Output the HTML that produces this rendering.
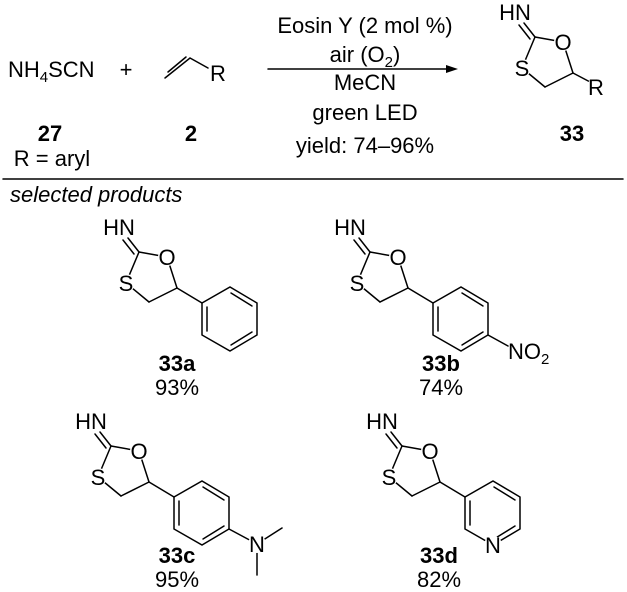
<!DOCTYPE html>
<html><head><meta charset="utf-8"><style>
html,body{margin:0;padding:0;background:#fff}
svg{display:block}
text{font-family:"Liberation Sans",Arial,sans-serif;font-size:22px;fill:#000}
.b{font-weight:bold}
line,polyline,polygon{stroke:#000;stroke-width:1.5;fill:none;stroke-linecap:round}
.w{fill:#fff;stroke:none}
</style></head><body>
<svg width="627" height="592" viewBox="0 0 627 592" xmlns="http://www.w3.org/2000/svg">
<text x="8" y="77">NH<tspan font-size="15" dy="5">4</tspan><tspan dy="-5">SCN</tspan></text>
<text x="126" y="77" text-anchor="middle">+</text>
<polyline points="165,78 190,58 208,68"/>
<line x1="168" y1="72" x2="186" y2="57"/>
<text x="218" y="81" text-anchor="middle">R</text>
<text x="50" y="141" class="b" text-anchor="middle">27</text>
<text x="191" y="141" class="b" text-anchor="middle">2</text>
<text x="52" y="166" text-anchor="middle">R = aryl</text>
<line x1="268" y1="69" x2="450" y2="69"/>
<polygon points="458,69 446,65 446,73" style="fill:#000;stroke:none"/>
<g text-anchor="middle">
<text x="365" y="33">Eosin Y (2 mol %)</text>
<text x="365" y="62">air (O<tspan font-size="15" dy="5">2</tspan><tspan dy="-5">)</tspan></text>
<text x="365" y="90">MeCN</text>
<text x="365" y="120">green LED</text>
<text x="365" y="153">yield: 74–96%</text>
</g>
<line x1="3" y1="179" x2="623" y2="179"/>
<text x="10" y="202" font-style="italic">selected products</text>

<g transform="translate(396,-215)">
<line x1="139" y1="252" x2="167" y2="257"/><line x1="167" y1="257" x2="177" y2="288"/>
<line x1="177" y1="288" x2="149" y2="302"/><line x1="149" y1="302" x2="126" y2="283"/>
<line x1="126" y1="283" x2="139" y2="252"/>
<line x1="139" y1="252" x2="128" y2="238"/><line x1="134" y1="254" x2="123" y2="240"/>
<line x1="177" y1="288" x2="196" y2="298"/>
<rect class="w" x="104" y="217" width="30" height="16"/><circle class="w" cx="167" cy="257" r="9"/><circle class="w" cx="126" cy="283" r="9"/><circle class="w" cx="200" cy="302" r="9"/>
<text x="119" y="235" text-anchor="middle">HN</text>
<text x="167" y="265" text-anchor="middle">O</text>
<text x="126" y="291" text-anchor="middle">S</text>
<text x="200" y="310" text-anchor="middle">R</text>
</g>
<text x="572" y="141" class="b" text-anchor="middle">33</text>

<g>
<line x1="139" y1="252" x2="167" y2="257"/><line x1="167" y1="257" x2="177" y2="288"/>
<line x1="177" y1="288" x2="149" y2="302"/><line x1="149" y1="302" x2="126" y2="283"/>
<line x1="126" y1="283" x2="139" y2="252"/>
<line x1="139" y1="252" x2="128" y2="238"/><line x1="134" y1="254" x2="123" y2="240"/>
<line x1="177" y1="288" x2="202" y2="303"/>
<polygon points="202,303 230,287 257,303 257,335 230,351 202,335"/>
<line x1="207" y1="307" x2="207" y2="331"/><line x1="231" y1="293" x2="252" y2="306"/><line x1="252" y1="332" x2="231" y2="345"/>
<rect class="w" x="104" y="217" width="30" height="16"/><circle class="w" cx="167" cy="257" r="9"/><circle class="w" cx="126" cy="283" r="9"/>
<text x="119" y="235" text-anchor="middle">HN</text>
<text x="167" y="265" text-anchor="middle">O</text>
<text x="126" y="291" text-anchor="middle">S</text>
</g>
<text x="177" y="371" class="b" text-anchor="middle">33a</text>
<text x="177" y="395" text-anchor="middle">93%</text>

<g transform="translate(231,0)">
<line x1="139" y1="252" x2="167" y2="257"/><line x1="167" y1="257" x2="177" y2="288"/>
<line x1="177" y1="288" x2="149" y2="302"/><line x1="149" y1="302" x2="126" y2="283"/>
<line x1="126" y1="283" x2="139" y2="252"/>
<line x1="139" y1="252" x2="128" y2="238"/><line x1="134" y1="254" x2="123" y2="240"/>
<line x1="177" y1="288" x2="202" y2="303"/>
<polygon points="202,303 230,287 257,303 257,335 230,351 202,335"/>
<line x1="207" y1="307" x2="207" y2="331"/><line x1="231" y1="293" x2="252" y2="306"/><line x1="252" y1="332" x2="231" y2="345"/>
<line x1="257" y1="335" x2="277" y2="346"/>
<rect class="w" x="104" y="217" width="30" height="16"/><circle class="w" cx="167" cy="257" r="9"/><circle class="w" cx="126" cy="283" r="9"/>
<text x="119" y="235" text-anchor="middle">HN</text>
<text x="167" y="265" text-anchor="middle">O</text>
<text x="126" y="291" text-anchor="middle">S</text>
<text x="277" y="359">NO<tspan font-size="15" dy="5">2</tspan></text>
</g>
<text x="441" y="371" class="b" text-anchor="middle">33b</text>
<text x="441" y="395" text-anchor="middle">74%</text>

<g transform="translate(-28,194)">
<line x1="139" y1="252" x2="167" y2="257"/><line x1="167" y1="257" x2="177" y2="288"/>
<line x1="177" y1="288" x2="149" y2="302"/><line x1="149" y1="302" x2="126" y2="283"/>
<line x1="126" y1="283" x2="139" y2="252"/>
<line x1="139" y1="252" x2="128" y2="238"/><line x1="134" y1="254" x2="123" y2="240"/>
<line x1="177" y1="288" x2="202" y2="303"/>
<polygon points="202,303 230,287 257,303 257,335 230,351 202,335"/>
<line x1="207" y1="307" x2="207" y2="331"/><line x1="231" y1="293" x2="252" y2="306"/><line x1="252" y1="332" x2="231" y2="345"/>
<line x1="257" y1="335" x2="285" y2="350"/><line x1="285" y1="350" x2="310" y2="334"/><line x1="285" y1="350" x2="285" y2="381"/>
<rect class="w" x="104" y="217" width="30" height="16"/><circle class="w" cx="167" cy="257" r="9"/><circle class="w" cx="126" cy="283" r="9"/><circle class="w" cx="285" cy="350" r="9"/>
<text x="119" y="235" text-anchor="middle">HN</text>
<text x="167" y="265" text-anchor="middle">O</text>
<text x="126" y="291" text-anchor="middle">S</text>
<text x="285" y="358" text-anchor="middle">N</text>
</g>
<text x="177" y="563" class="b" text-anchor="middle">33c</text>
<text x="177" y="587" text-anchor="middle">95%</text>

<g transform="translate(263,194)">
<line x1="139" y1="252" x2="167" y2="257"/><line x1="167" y1="257" x2="177" y2="288"/>
<line x1="177" y1="288" x2="149" y2="302"/><line x1="149" y1="302" x2="126" y2="283"/>
<line x1="126" y1="283" x2="139" y2="252"/>
<line x1="139" y1="252" x2="128" y2="238"/><line x1="134" y1="254" x2="123" y2="240"/>
<line x1="177" y1="288" x2="202" y2="303"/>
<polygon points="202,303 230,287 257,303 257,335 230,351 202,335"/>
<line x1="207" y1="307" x2="207" y2="331"/><line x1="231" y1="293" x2="252" y2="306"/><line x1="252" y1="332" x2="231" y2="345"/>
<rect class="w" x="104" y="217" width="30" height="16"/><circle class="w" cx="167" cy="257" r="9"/><circle class="w" cx="126" cy="283" r="9"/><circle class="w" cx="230" cy="351" r="9"/>
<text x="119" y="235" text-anchor="middle">HN</text>
<text x="167" y="265" text-anchor="middle">O</text>
<text x="126" y="291" text-anchor="middle">S</text>
<text x="230" y="359" text-anchor="middle">N</text>
</g>
<text x="439" y="563" class="b" text-anchor="middle">33d</text>
<text x="439" y="587" text-anchor="middle">82%</text>
</svg>
</body></html>
